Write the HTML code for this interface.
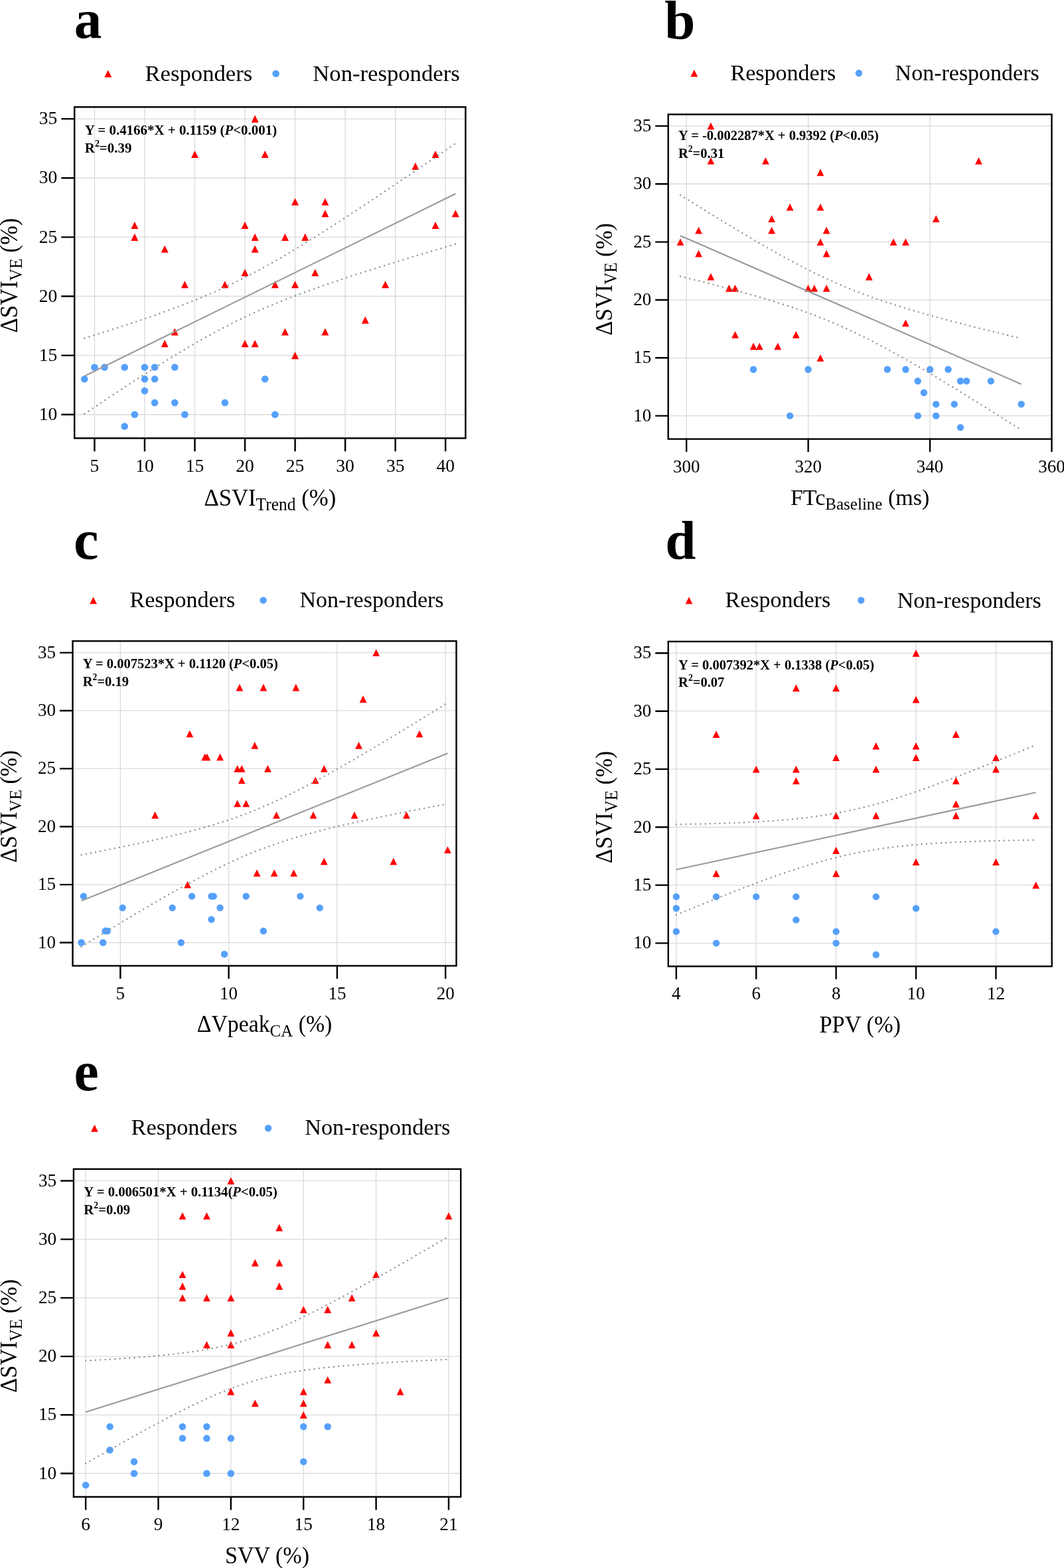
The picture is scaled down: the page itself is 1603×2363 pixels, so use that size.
<!DOCTYPE html>
<html><head><meta charset="utf-8"><title>Scatter plots</title>
<style>html,body{margin:0;padding:0;background:#fff;}svg{display:block;}</style></head>
<body><svg width="1603" height="2363" viewBox="0 0 1603 2363">
<rect width="1603" height="2363" fill="#fff"/>
<g id="panel-a">
<path d="M142.42 161.3V660.4M217.95 161.3V660.4M293.49 161.3V660.4M369.03 161.3V660.4M444.57 161.3V660.4M520.11 161.3V660.4M595.65 161.3V660.4M671.18 161.3V660.4M112.2 624.75H701.4M112.2 535.62H701.4M112.2 446.5H701.4M112.2 357.38H701.4M112.2 268.25H701.4M112.2 179.12H701.4" stroke="#dadada" stroke-width="1.33" fill="none"/>
<circle cx="142.42" cy="553.45" r="5.3" fill="#55a0fb"/><circle cx="157.52" cy="553.45" r="5.3" fill="#55a0fb"/><circle cx="187.74" cy="553.45" r="5.3" fill="#55a0fb"/><circle cx="217.95" cy="553.45" r="5.3" fill="#55a0fb"/><circle cx="233.06" cy="553.45" r="5.3" fill="#55a0fb"/><circle cx="263.28" cy="553.45" r="5.3" fill="#55a0fb"/><circle cx="127.31" cy="571.27" r="5.3" fill="#55a0fb"/><circle cx="217.95" cy="571.27" r="5.3" fill="#55a0fb"/><circle cx="233.06" cy="571.27" r="5.3" fill="#55a0fb"/><circle cx="399.25" cy="571.27" r="5.3" fill="#55a0fb"/><circle cx="217.95" cy="589.1" r="5.3" fill="#55a0fb"/><circle cx="233.06" cy="606.92" r="5.3" fill="#55a0fb"/><circle cx="263.28" cy="606.92" r="5.3" fill="#55a0fb"/><circle cx="338.82" cy="606.92" r="5.3" fill="#55a0fb"/><circle cx="202.85" cy="624.75" r="5.3" fill="#55a0fb"/><circle cx="278.38" cy="624.75" r="5.3" fill="#55a0fb"/><circle cx="414.35" cy="624.75" r="5.3" fill="#55a0fb"/><circle cx="187.74" cy="642.57" r="5.3" fill="#55a0fb"/><path d="M378.63 184.63L384.14 173.62L389.65 184.63Z" fill="#ff0000"/><path d="M287.98 238.11L293.49 227.09L299 238.11Z" fill="#ff0000"/><path d="M393.74 238.11L399.25 227.09L404.75 238.11Z" fill="#ff0000"/><path d="M620.35 255.93L625.86 244.92L631.37 255.93Z" fill="#ff0000"/><path d="M650.57 238.11L656.08 227.09L661.58 238.11Z" fill="#ff0000"/><path d="M439.06 309.41L444.57 298.39L450.08 309.41Z" fill="#ff0000"/><path d="M484.38 309.41L489.89 298.39L495.4 309.41Z" fill="#ff0000"/><path d="M484.38 327.23L489.89 316.22L495.4 327.23Z" fill="#ff0000"/><path d="M680.78 327.23L686.29 316.22L691.8 327.23Z" fill="#ff0000"/><path d="M197.34 345.06L202.85 334.04L208.35 345.06Z" fill="#ff0000"/><path d="M197.34 362.88L202.85 351.87L208.35 362.88Z" fill="#ff0000"/><path d="M363.52 345.06L369.03 334.04L374.54 345.06Z" fill="#ff0000"/><path d="M650.57 345.06L656.08 334.04L661.58 345.06Z" fill="#ff0000"/><path d="M378.63 362.88L384.14 351.87L389.65 362.88Z" fill="#ff0000"/><path d="M423.95 362.88L429.46 351.87L434.97 362.88Z" fill="#ff0000"/><path d="M454.17 362.88L459.68 351.87L465.18 362.88Z" fill="#ff0000"/><path d="M242.66 380.71L248.17 369.69L253.68 380.71Z" fill="#ff0000"/><path d="M378.63 380.71L384.14 369.69L389.65 380.71Z" fill="#ff0000"/><path d="M363.52 416.36L369.03 405.34L374.54 416.36Z" fill="#ff0000"/><path d="M469.28 416.36L474.78 405.34L480.29 416.36Z" fill="#ff0000"/><path d="M272.88 434.18L278.38 423.17L283.89 434.18Z" fill="#ff0000"/><path d="M333.31 434.18L338.82 423.17L344.32 434.18Z" fill="#ff0000"/><path d="M408.85 434.18L414.35 423.17L419.86 434.18Z" fill="#ff0000"/><path d="M439.06 434.18L444.57 423.17L450.08 434.18Z" fill="#ff0000"/><path d="M575.03 434.18L580.54 423.17L586.05 434.18Z" fill="#ff0000"/><path d="M544.82 487.66L550.32 476.64L555.83 487.66Z" fill="#ff0000"/><path d="M257.77 505.48L263.28 494.47L268.78 505.48Z" fill="#ff0000"/><path d="M423.95 505.48L429.46 494.47L434.97 505.48Z" fill="#ff0000"/><path d="M484.38 505.48L489.89 494.47L495.4 505.48Z" fill="#ff0000"/><path d="M242.66 523.31L248.17 512.29L253.68 523.31Z" fill="#ff0000"/><path d="M363.52 523.31L369.03 512.29L374.54 523.31Z" fill="#ff0000"/><path d="M378.63 523.31L384.14 512.29L389.65 523.31Z" fill="#ff0000"/><path d="M439.06 541.13L444.57 530.12L450.08 541.13Z" fill="#ff0000"/>
<path d="M127.31 566.7L686.29 291.95" stroke="#999a9d" stroke-width="2.14" fill="none"/>
<path d="M127.31 509.76L132.01 508.3L136.7 506.83L141.4 505.35L146.1 503.87L150.79 502.39L155.49 500.9L160.19 499.4L164.89 497.89L169.58 496.38L174.28 494.86L178.98 493.34L183.68 491.81L188.37 490.26L193.07 488.71L197.77 487.15L202.47 485.58L207.16 484L211.86 482.41L216.56 480.81L221.25 479.2L225.95 477.57L230.65 475.93L235.35 474.28L240.04 472.61L244.74 470.93L249.44 469.23L254.14 467.52L258.83 465.79L263.53 464.04L268.23 462.27L272.93 460.48L277.62 458.67L282.32 456.83L287.02 454.98L291.71 453.1L296.41 451.2L301.11 449.27L305.81 447.31L310.5 445.33L315.2 443.31L319.9 441.27L324.6 439.2L329.29 437.1L333.99 434.97L338.69 432.8L343.39 430.6L348.08 428.37L352.78 426.11L357.48 423.81L362.18 421.48L366.87 419.12L371.57 416.72L376.27 414.3L380.96 411.84L385.66 409.34L390.36 406.82L395.06 404.27L399.75 401.68L404.45 399.07L409.15 396.43L413.85 393.76L418.54 391.07L423.24 388.35L427.94 385.6L432.64 382.83L437.33 380.04L442.03 377.23L446.73 374.4L451.42 371.54L456.12 368.67L460.82 365.78L465.52 362.87L470.21 359.95L474.91 357.01L479.61 354.05L484.31 351.08L489 348.1L493.7 345.11L498.4 342.1L503.1 339.08L507.79 336.05L512.49 333.01L517.19 329.96L521.89 326.9L526.58 323.83L531.28 320.75L535.98 317.67L540.67 314.57L545.37 311.47L550.07 308.36L554.77 305.25L559.46 302.13L564.16 299L568.86 295.86L573.56 292.73L578.25 289.58L582.95 286.43L587.65 283.28L592.35 280.12L597.04 276.95L601.74 273.79L606.44 270.61L611.13 267.44L615.83 264.26L620.53 261.07L625.23 257.89L629.92 254.7L634.62 251.5L639.32 248.31L644.02 245.11L648.71 241.9L653.41 238.7L658.11 235.49L662.81 232.28L667.5 229.07L672.2 225.85L676.9 222.64L681.59 219.42L686.29 216.2" stroke="#8a8a8a" stroke-width="2.4" stroke-linecap="round" stroke-dasharray="0 7.45" fill="none"/>
<path d="M127.31 623.65L132.01 620.49L136.7 617.35L141.4 614.2L146.1 611.06L150.79 607.93L155.49 604.81L160.19 601.69L164.89 598.57L169.58 595.47L174.28 592.37L178.98 589.27L183.68 586.19L188.37 583.12L193.07 580.05L197.77 576.99L202.47 573.94L207.16 570.9L211.86 567.88L216.56 564.86L221.25 561.86L225.95 558.86L230.65 555.89L235.35 552.92L240.04 549.97L244.74 547.03L249.44 544.11L254.14 541.21L258.83 538.32L263.53 535.46L268.23 532.61L272.93 529.78L277.62 526.97L282.32 524.19L287.02 521.43L291.71 518.69L296.41 515.97L301.11 513.28L305.81 510.62L310.5 507.99L315.2 505.38L319.9 502.81L324.6 500.26L329.29 497.75L333.99 495.26L338.69 492.81L343.39 490.39L348.08 488L352.78 485.65L357.48 483.33L362.18 481.04L366.87 478.78L371.57 476.56L376.27 474.37L380.96 472.21L385.66 470.09L390.36 467.99L395.06 465.93L399.75 463.9L404.45 461.89L409.15 459.91L413.85 457.96L418.54 456.04L423.24 454.14L427.94 452.27L432.64 450.42L437.33 448.59L442.03 446.79L446.73 445L451.42 443.24L456.12 441.49L460.82 439.77L465.52 438.06L470.21 436.36L474.91 434.69L479.61 433.02L484.31 431.37L489 429.74L493.7 428.11L498.4 426.5L503.1 424.91L507.79 423.32L512.49 421.74L517.19 420.17L521.89 418.62L526.58 417.07L531.28 415.53L535.98 414L540.67 412.47L545.37 410.96L550.07 409.45L554.77 407.94L559.46 406.45L564.16 404.96L568.86 403.47L573.56 401.99L578.25 400.52L582.95 399.05L587.65 397.59L592.35 396.13L597.04 394.68L601.74 393.23L606.44 391.78L611.13 390.34L615.83 388.9L620.53 387.47L625.23 386.04L629.92 384.61L634.62 383.19L639.32 381.76L644.02 380.35L648.71 378.93L653.41 377.52L658.11 376.11L662.81 374.7L667.5 373.3L672.2 371.89L676.9 370.49L681.59 369.09L686.29 367.7" stroke="#8a8a8a" stroke-width="2.4" stroke-linecap="round" stroke-dasharray="0 7.45" fill="none"/>
<rect x="112.2" y="161.3" width="589.2" height="499.1" fill="none" stroke="#000" stroke-width="2.45"/>
<path d="M142.42 660.4V680.29M217.95 660.4V680.29M293.49 660.4V680.29M369.03 660.4V680.29M444.57 660.4V680.29M520.11 660.4V680.29M595.65 660.4V680.29M671.18 660.4V680.29M112.2 624.75H92.31M112.2 535.62H92.31M112.2 446.5H92.31M112.2 357.38H92.31M112.2 268.25H92.31M112.2 179.12H92.31" stroke="#000" stroke-width="2.45" fill="none"/>
<g font-family="'Liberation Serif','Times New Roman',serif" font-size="27.54" fill="#000"><text x="142.42" y="711.4" text-anchor="middle">5</text><text x="217.95" y="711.4" text-anchor="middle">10</text><text x="293.49" y="711.4" text-anchor="middle">15</text><text x="369.03" y="711.4" text-anchor="middle">20</text><text x="444.57" y="711.4" text-anchor="middle">25</text><text x="520.11" y="711.4" text-anchor="middle">30</text><text x="595.65" y="711.4" text-anchor="middle">35</text><text x="671.18" y="711.4" text-anchor="middle">40</text><text x="86.19" y="632.91" text-anchor="end">10</text><text x="86.19" y="543.78" text-anchor="end">15</text><text x="86.19" y="454.66" text-anchor="end">20</text><text x="86.19" y="365.54" text-anchor="end">25</text><text x="86.19" y="276.41" text-anchor="end">30</text><text x="86.19" y="187.28" text-anchor="end">35</text></g>
<text transform="translate(406.8 761.58) scale(1 1.06)" text-anchor="middle" font-family="'Liberation Serif','Times New Roman',serif" font-size="34.68">ΔSVI<tspan font-size="25.5" dy="7.04">Trend</tspan><tspan dy="-7.04">&#160;(%)</tspan></text>
<text transform="translate(25.5 415.07) rotate(-90) scale(1 1.07)" text-anchor="middle" font-family="'Liberation Serif','Times New Roman',serif" font-size="34.68">ΔSVI<tspan font-size="25.5" dy="7.34">VE</tspan><tspan dy="-7.34">&#160;(%)</tspan></text>
<text x="127.81" y="203.02" font-family="'Liberation Serif','Times New Roman',serif" font-weight="bold" font-size="20.91" xml:space="preserve">Y = 0.4166*X + 0.1159 (<tspan font-style="italic">P</tspan>&lt;0.001)</text>
<text x="127.81" y="230.15" font-family="'Liberation Serif','Times New Roman',serif" font-weight="bold" font-size="20.91">R<tspan font-size="13.87" dy="-8.98">2</tspan><tspan dy="8.98">=0.39</tspan></text>
<text transform="translate(111.8 57) scale(0.98 1)" font-family="'Liberation Serif','Times New Roman',serif" font-weight="bold" font-size="84.66">a</text>
<path d="M157.29 116.51L162.8 105.49L168.31 116.51Z" fill="#ff0000"/>
<circle cx="415.6" cy="111" r="5.3" fill="#55a0fb"/>
<text x="218.48" y="121.7" font-family="'Liberation Serif','Times New Roman',serif" font-size="34.68">Responders</text>
<text x="471.28" y="122" font-family="'Liberation Serif','Times New Roman',serif" font-size="34.68">Non-responders</text>
</g>
<g id="panel-b">
<path d="M1034.21 172.4V661.6M1217.64 172.4V661.6M1401.07 172.4V661.6M1584.5 172.4V661.6M1006.7 626.66H1584.5M1006.7 539.3H1584.5M1006.7 451.94H1584.5M1006.7 364.59H1584.5M1006.7 277.23H1584.5M1006.7 189.87H1584.5" stroke="#dadada" stroke-width="1.3" fill="none"/>
<circle cx="1135.1" cy="556.77" r="5.2" fill="#55a0fb"/><circle cx="1217.64" cy="556.77" r="5.2" fill="#55a0fb"/><circle cx="1336.87" cy="556.77" r="5.2" fill="#55a0fb"/><circle cx="1364.39" cy="556.77" r="5.2" fill="#55a0fb"/><circle cx="1401.07" cy="556.77" r="5.2" fill="#55a0fb"/><circle cx="1428.59" cy="556.77" r="5.2" fill="#55a0fb"/><circle cx="1382.73" cy="574.24" r="5.2" fill="#55a0fb"/><circle cx="1446.93" cy="574.24" r="5.2" fill="#55a0fb"/><circle cx="1456.1" cy="574.24" r="5.2" fill="#55a0fb"/><circle cx="1492.79" cy="574.24" r="5.2" fill="#55a0fb"/><circle cx="1391.9" cy="591.71" r="5.2" fill="#55a0fb"/><circle cx="1410.24" cy="609.19" r="5.2" fill="#55a0fb"/><circle cx="1437.76" cy="609.19" r="5.2" fill="#55a0fb"/><circle cx="1538.64" cy="609.19" r="5.2" fill="#55a0fb"/><circle cx="1190.13" cy="626.66" r="5.2" fill="#55a0fb"/><circle cx="1382.73" cy="626.66" r="5.2" fill="#55a0fb"/><circle cx="1410.24" cy="626.66" r="5.2" fill="#55a0fb"/><circle cx="1446.93" cy="644.13" r="5.2" fill="#55a0fb"/><path d="M1065.5 195.27L1070.9 184.47L1076.3 195.27Z" fill="#ff0000"/><path d="M1065.5 247.69L1070.9 236.89L1076.3 247.69Z" fill="#ff0000"/><path d="M1148.04 247.69L1153.44 236.89L1158.84 247.69Z" fill="#ff0000"/><path d="M1230.59 265.16L1235.99 254.36L1241.39 265.16Z" fill="#ff0000"/><path d="M1469.04 247.69L1474.44 236.89L1479.84 247.69Z" fill="#ff0000"/><path d="M1184.73 317.57L1190.13 306.77L1195.53 317.57Z" fill="#ff0000"/><path d="M1230.59 317.57L1235.99 306.77L1241.39 317.57Z" fill="#ff0000"/><path d="M1157.21 335.04L1162.61 324.24L1168.01 335.04Z" fill="#ff0000"/><path d="M1404.84 335.04L1410.24 324.24L1415.64 335.04Z" fill="#ff0000"/><path d="M1047.16 352.51L1052.56 341.71L1057.96 352.51Z" fill="#ff0000"/><path d="M1157.21 352.51L1162.61 341.71L1168.01 352.51Z" fill="#ff0000"/><path d="M1239.76 352.51L1245.16 341.71L1250.56 352.51Z" fill="#ff0000"/><path d="M1019.64 369.99L1025.04 359.19L1030.44 369.99Z" fill="#ff0000"/><path d="M1230.59 369.99L1235.99 359.19L1241.39 369.99Z" fill="#ff0000"/><path d="M1340.64 369.99L1346.04 359.19L1351.44 369.99Z" fill="#ff0000"/><path d="M1358.99 369.99L1364.39 359.19L1369.79 369.99Z" fill="#ff0000"/><path d="M1047.16 387.46L1052.56 376.66L1057.96 387.46Z" fill="#ff0000"/><path d="M1239.76 387.46L1245.16 376.66L1250.56 387.46Z" fill="#ff0000"/><path d="M1065.5 422.4L1070.9 411.6L1076.3 422.4Z" fill="#ff0000"/><path d="M1303.96 422.4L1309.36 411.6L1314.76 422.4Z" fill="#ff0000"/><path d="M1093.01 439.87L1098.41 429.07L1103.81 439.87Z" fill="#ff0000"/><path d="M1102.19 439.87L1107.59 429.07L1112.99 439.87Z" fill="#ff0000"/><path d="M1212.24 439.87L1217.64 429.07L1223.04 439.87Z" fill="#ff0000"/><path d="M1221.41 439.87L1226.81 429.07L1232.21 439.87Z" fill="#ff0000"/><path d="M1239.76 439.87L1245.16 429.07L1250.56 439.87Z" fill="#ff0000"/><path d="M1358.99 492.29L1364.39 481.49L1369.79 492.29Z" fill="#ff0000"/><path d="M1102.19 509.76L1107.59 498.96L1112.99 509.76Z" fill="#ff0000"/><path d="M1193.9 509.76L1199.3 498.96L1204.7 509.76Z" fill="#ff0000"/><path d="M1129.7 527.23L1135.1 516.43L1140.5 527.23Z" fill="#ff0000"/><path d="M1138.87 527.23L1144.27 516.43L1149.67 527.23Z" fill="#ff0000"/><path d="M1166.39 527.23L1171.79 516.43L1177.19 527.23Z" fill="#ff0000"/><path d="M1230.59 544.7L1235.99 533.9L1241.39 544.7Z" fill="#ff0000"/>
<path d="M1025.04 355.17L1538.64 578.93" stroke="#999a9d" stroke-width="2.1" fill="none"/>
<path d="M1025.04 293.85L1029.36 296.56L1033.67 299.27L1037.99 301.97L1042.31 304.67L1046.62 307.36L1050.94 310.05L1055.25 312.73L1059.57 315.41L1063.89 318.08L1068.2 320.75L1072.52 323.41L1076.83 326.07L1081.15 328.71L1085.47 331.36L1089.78 333.99L1094.1 336.62L1098.41 339.24L1102.73 341.85L1107.05 344.45L1111.36 347.05L1115.68 349.63L1119.99 352.21L1124.31 354.77L1128.63 357.33L1132.94 359.87L1137.26 362.4L1141.57 364.92L1145.89 367.43L1150.21 369.92L1154.52 372.4L1158.84 374.87L1163.15 377.31L1167.47 379.75L1171.79 382.16L1176.1 384.56L1180.42 386.94L1184.73 389.3L1189.05 391.64L1193.37 393.96L1197.68 396.26L1202 398.54L1206.31 400.79L1210.63 403.02L1214.95 405.22L1219.26 407.4L1223.58 409.55L1227.89 411.68L1232.21 413.78L1236.53 415.85L1240.84 417.89L1245.16 419.9L1249.47 421.89L1253.79 423.84L1258.11 425.77L1262.42 427.66L1266.74 429.52L1271.05 431.36L1275.37 433.16L1279.68 434.94L1284 436.68L1288.32 438.4L1292.63 440.09L1296.95 441.75L1301.26 443.38L1305.58 444.99L1309.9 446.57L1314.21 448.12L1318.53 449.65L1322.84 451.16L1327.16 452.64L1331.48 454.1L1335.79 455.54L1340.11 456.96L1344.42 458.36L1348.74 459.74L1353.06 461.1L1357.37 462.44L1361.69 463.77L1366 465.08L1370.32 466.38L1374.64 467.66L1378.95 468.92L1383.27 470.18L1387.58 471.42L1391.9 472.65L1396.22 473.86L1400.53 475.07L1404.85 476.26L1409.16 477.45L1413.48 478.62L1417.8 479.79L1422.11 480.94L1426.43 482.09L1430.74 483.23L1435.06 484.36L1439.38 485.49L1443.69 486.61L1448.01 487.72L1452.32 488.82L1456.64 489.92L1460.96 491.02L1465.27 492.1L1469.59 493.19L1473.9 494.26L1478.22 495.33L1482.54 496.4L1486.85 497.46L1491.17 498.52L1495.48 499.58L1499.8 500.63L1504.12 501.67L1508.43 502.72L1512.75 503.75L1517.06 504.79L1521.38 505.82L1525.69 506.85L1530.01 507.88L1534.33 508.9L1538.64 509.92" stroke="#8a8a8a" stroke-width="2.35" stroke-linecap="round" stroke-dasharray="0 7.3" fill="none"/>
<path d="M1025.04 416.5L1029.36 417.55L1033.67 418.6L1037.99 419.66L1042.31 420.73L1046.62 421.79L1050.94 422.86L1055.25 423.94L1059.57 425.02L1063.89 426.11L1068.2 427.21L1072.52 428.31L1076.83 429.41L1081.15 430.52L1085.47 431.64L1089.78 432.77L1094.1 433.9L1098.41 435.04L1102.73 436.19L1107.05 437.35L1111.36 438.51L1115.68 439.69L1119.99 440.87L1124.31 442.07L1128.63 443.28L1132.94 444.49L1137.26 445.72L1141.57 446.96L1145.89 448.22L1150.21 449.48L1154.52 450.77L1158.84 452.06L1163.15 453.37L1167.47 454.7L1171.79 456.05L1176.1 457.41L1180.42 458.79L1184.73 460.19L1189.05 461.61L1193.37 463.05L1197.68 464.51L1202 466L1206.31 467.51L1210.63 469.04L1214.95 470.6L1219.26 472.18L1223.58 473.78L1227.89 475.42L1232.21 477.08L1236.53 478.77L1240.84 480.49L1245.16 482.24L1249.47 484.02L1253.79 485.82L1258.11 487.66L1262.42 489.53L1266.74 491.42L1271.05 493.35L1275.37 495.3L1279.68 497.29L1284 499.3L1288.32 501.35L1292.63 503.42L1296.95 505.52L1301.26 507.65L1305.58 509.8L1309.9 511.98L1314.21 514.19L1318.53 516.42L1322.84 518.68L1327.16 520.95L1331.48 523.25L1335.79 525.58L1340.11 527.92L1344.42 530.28L1348.74 532.66L1353.06 535.06L1357.37 537.48L1361.69 539.91L1366 542.36L1370.32 544.83L1374.64 547.31L1378.95 549.8L1383.27 552.31L1387.58 554.83L1391.9 557.36L1396.22 559.9L1400.53 562.46L1404.85 565.03L1409.16 567.6L1413.48 570.19L1417.8 572.78L1422.11 575.39L1426.43 578L1430.74 580.62L1435.06 583.25L1439.38 585.88L1443.69 588.53L1448.01 591.17L1452.32 593.83L1456.64 596.49L1460.96 599.16L1465.27 601.83L1469.59 604.51L1473.9 607.2L1478.22 609.88L1482.54 612.58L1486.85 615.28L1491.17 617.98L1495.48 620.68L1499.8 623.4L1504.12 626.11L1508.43 628.83L1512.75 631.55L1517.06 634.27L1521.38 637L1525.69 639.73L1530.01 642.47L1534.33 645.21L1538.64 647.95" stroke="#8a8a8a" stroke-width="2.35" stroke-linecap="round" stroke-dasharray="0 7.3" fill="none"/>
<rect x="1006.7" y="172.4" width="577.8" height="489.2" fill="none" stroke="#000" stroke-width="2.4"/>
<path d="M1034.21 661.6V681.1M1217.64 661.6V681.1M1401.07 661.6V681.1M1584.5 661.6V681.1M1006.7 626.66H987.2M1006.7 539.3H987.2M1006.7 451.94H987.2M1006.7 364.59H987.2M1006.7 277.23H987.2M1006.7 189.87H987.2" stroke="#000" stroke-width="2.4" fill="none"/>
<g font-family="'Liberation Serif','Times New Roman',serif" font-size="27" fill="#000"><text x="1034.21" y="711.6" text-anchor="middle">300</text><text x="1217.64" y="711.6" text-anchor="middle">320</text><text x="1401.07" y="711.6" text-anchor="middle">340</text><text x="1584.5" y="711.6" text-anchor="middle">360</text><text x="981.2" y="634.66" text-anchor="end">10</text><text x="981.2" y="547.3" text-anchor="end">15</text><text x="981.2" y="459.94" text-anchor="end">20</text><text x="981.2" y="372.59" text-anchor="end">25</text><text x="981.2" y="285.23" text-anchor="end">30</text><text x="981.2" y="197.87" text-anchor="end">35</text></g>
<text transform="translate(1295.6 760.8) scale(1 1.0)" text-anchor="middle" font-family="'Liberation Serif','Times New Roman',serif" font-size="34">FTc<tspan font-size="25" dy="6.9">Baseline</tspan><tspan dy="-6.9">&#160;(ms)</tspan></text>
<text transform="translate(921.7 420.8) rotate(-90) scale(1 1.08)" text-anchor="middle" font-family="'Liberation Serif','Times New Roman',serif" font-size="34">ΔSVI<tspan font-size="25" dy="7.2">VE</tspan><tspan dy="-7.2">&#160;(%)</tspan></text>
<text x="1022" y="210.9" font-family="'Liberation Serif','Times New Roman',serif" font-weight="bold" font-size="20.5" xml:space="preserve">Y = -0.002287*X + 0.9392 (<tspan font-style="italic">P</tspan>&lt;0.05)</text>
<text x="1022" y="237.5" font-family="'Liberation Serif','Times New Roman',serif" font-weight="bold" font-size="20.5">R<tspan font-size="13.6" dy="-8.8">2</tspan><tspan dy="8.8">=0.31</tspan></text>
<text transform="translate(1001.2 57.5) scale(1.0 1)" font-family="'Liberation Serif','Times New Roman',serif" font-weight="bold" font-size="83">b</text>
<path d="M1040.4 115.7L1045.8 104.9L1051.2 115.7Z" fill="#ff0000"/>
<circle cx="1293.9" cy="110.2" r="5.2" fill="#55a0fb"/>
<text x="1100.6" y="120.5" font-family="'Liberation Serif','Times New Roman',serif" font-size="34">Responders</text>
<text x="1348.6" y="120.8" font-family="'Liberation Serif','Times New Roman',serif" font-size="34">Non-responders</text>
</g>
<g id="panel-c">
<path d="M181.34 966.1V1455.5M344.62 966.1V1455.5M507.9 966.1V1455.5M671.17 966.1V1455.5M109.5 1420.54H687.5M109.5 1333.15H687.5M109.5 1245.76H687.5M109.5 1158.36H687.5M109.5 1070.97H687.5M109.5 983.58H687.5" stroke="#dadada" stroke-width="1.3" fill="none"/>
<circle cx="125.83" cy="1350.63" r="5.2" fill="#55a0fb"/><circle cx="289.1" cy="1350.63" r="5.2" fill="#55a0fb"/><circle cx="318.49" cy="1350.63" r="5.2" fill="#55a0fb"/><circle cx="321.76" cy="1350.63" r="5.2" fill="#55a0fb"/><circle cx="370.74" cy="1350.63" r="5.2" fill="#55a0fb"/><circle cx="452.38" cy="1350.63" r="5.2" fill="#55a0fb"/><circle cx="184.61" cy="1368.11" r="5.2" fill="#55a0fb"/><circle cx="259.71" cy="1368.11" r="5.2" fill="#55a0fb"/><circle cx="331.56" cy="1368.11" r="5.2" fill="#55a0fb"/><circle cx="481.77" cy="1368.11" r="5.2" fill="#55a0fb"/><circle cx="318.49" cy="1385.59" r="5.2" fill="#55a0fb"/><circle cx="158.48" cy="1403.06" r="5.2" fill="#55a0fb"/><circle cx="161.75" cy="1403.06" r="5.2" fill="#55a0fb"/><circle cx="396.87" cy="1403.06" r="5.2" fill="#55a0fb"/><circle cx="122.56" cy="1420.54" r="5.2" fill="#55a0fb"/><circle cx="155.22" cy="1420.54" r="5.2" fill="#55a0fb"/><circle cx="272.78" cy="1420.54" r="5.2" fill="#55a0fb"/><circle cx="338.09" cy="1438.02" r="5.2" fill="#55a0fb"/><path d="M561.28 988.98L566.68 978.18L572.08 988.98Z" fill="#ff0000"/><path d="M355.55 1041.41L360.95 1030.61L366.35 1041.41Z" fill="#ff0000"/><path d="M391.47 1041.41L396.87 1030.61L402.27 1041.41Z" fill="#ff0000"/><path d="M440.45 1041.41L445.85 1030.61L451.25 1041.41Z" fill="#ff0000"/><path d="M541.68 1058.89L547.08 1048.09L552.48 1058.89Z" fill="#ff0000"/><path d="M280.44 1111.33L285.84 1100.53L291.24 1111.33Z" fill="#ff0000"/><path d="M626.59 1111.33L631.99 1100.53L637.39 1111.33Z" fill="#ff0000"/><path d="M378.41 1128.81L383.81 1118.01L389.21 1128.81Z" fill="#ff0000"/><path d="M535.15 1128.81L540.55 1118.01L545.95 1128.81Z" fill="#ff0000"/><path d="M303.3 1146.29L308.7 1135.49L314.1 1146.29Z" fill="#ff0000"/><path d="M306.56 1146.29L311.96 1135.49L317.36 1146.29Z" fill="#ff0000"/><path d="M326.16 1146.29L331.56 1135.49L336.96 1146.29Z" fill="#ff0000"/><path d="M352.28 1163.76L357.68 1152.96L363.08 1163.76Z" fill="#ff0000"/><path d="M358.81 1163.76L364.21 1152.96L369.61 1163.76Z" fill="#ff0000"/><path d="M398 1163.76L403.4 1152.96L408.8 1163.76Z" fill="#ff0000"/><path d="M482.9 1163.76L488.3 1152.96L493.7 1163.76Z" fill="#ff0000"/><path d="M358.81 1181.24L364.21 1170.44L369.61 1181.24Z" fill="#ff0000"/><path d="M469.84 1181.24L475.24 1170.44L480.64 1181.24Z" fill="#ff0000"/><path d="M352.28 1216.2L357.68 1205.4L363.08 1216.2Z" fill="#ff0000"/><path d="M365.34 1216.2L370.74 1205.4L376.14 1216.2Z" fill="#ff0000"/><path d="M228.19 1233.68L233.59 1222.88L238.99 1233.68Z" fill="#ff0000"/><path d="M411.06 1233.68L416.46 1222.88L421.86 1233.68Z" fill="#ff0000"/><path d="M466.57 1233.68L471.97 1222.88L477.37 1233.68Z" fill="#ff0000"/><path d="M528.62 1233.68L534.02 1222.88L539.42 1233.68Z" fill="#ff0000"/><path d="M606.99 1233.68L612.39 1222.88L617.79 1233.68Z" fill="#ff0000"/><path d="M669.04 1286.11L674.44 1275.31L679.84 1286.11Z" fill="#ff0000"/><path d="M482.9 1303.59L488.3 1292.79L493.7 1303.59Z" fill="#ff0000"/><path d="M587.4 1303.59L592.8 1292.79L598.2 1303.59Z" fill="#ff0000"/><path d="M381.67 1321.07L387.07 1310.27L392.47 1321.07Z" fill="#ff0000"/><path d="M407.79 1321.07L413.19 1310.27L418.59 1321.07Z" fill="#ff0000"/><path d="M437.18 1321.07L442.58 1310.27L447.98 1321.07Z" fill="#ff0000"/><path d="M277.17 1338.55L282.57 1327.75L287.97 1338.55Z" fill="#ff0000"/>
<path d="M122.56 1357.49L674.44 1135.27" stroke="#999a9d" stroke-width="2.1" fill="none"/>
<path d="M122.56 1288.28L127.2 1287.39L131.84 1286.5L136.47 1285.61L141.11 1284.71L145.75 1283.81L150.39 1282.91L155.03 1282L159.66 1281.08L164.3 1280.16L168.94 1279.24L173.58 1278.3L178.21 1277.37L182.85 1276.42L187.49 1275.47L192.13 1274.52L196.76 1273.55L201.4 1272.58L206.04 1271.6L210.68 1270.62L215.31 1269.62L219.95 1268.61L224.59 1267.6L229.23 1266.57L233.86 1265.54L238.5 1264.49L243.14 1263.43L247.78 1262.36L252.42 1261.27L257.05 1260.17L261.69 1259.06L266.33 1257.93L270.97 1256.78L275.6 1255.62L280.24 1254.44L284.88 1253.24L289.52 1252.02L294.15 1250.77L298.79 1249.51L303.43 1248.22L308.07 1246.91L312.7 1245.57L317.34 1244.2L321.98 1242.81L326.62 1241.39L331.25 1239.93L335.89 1238.45L340.53 1236.93L345.17 1235.38L349.81 1233.8L354.44 1232.17L359.08 1230.52L363.72 1228.82L368.36 1227.09L372.99 1225.32L377.63 1223.51L382.27 1221.66L386.91 1219.77L391.54 1217.85L396.18 1215.88L400.82 1213.88L405.46 1211.84L410.09 1209.76L414.73 1207.65L419.37 1205.5L424.01 1203.31L428.64 1201.09L433.28 1198.84L437.92 1196.56L442.56 1194.25L447.19 1191.91L451.83 1189.54L456.47 1187.14L461.11 1184.72L465.75 1182.27L470.38 1179.8L475.02 1177.31L479.66 1174.79L484.3 1172.26L488.93 1169.7L493.57 1167.13L498.21 1164.54L502.85 1161.94L507.48 1159.32L512.12 1156.68L516.76 1154.03L521.4 1151.37L526.03 1148.69L530.67 1146L535.31 1143.31L539.95 1140.6L544.58 1137.88L549.22 1135.15L553.86 1132.41L558.5 1129.66L563.14 1126.91L567.77 1124.14L572.41 1121.37L577.05 1118.59L581.69 1115.81L586.32 1113.01L590.96 1110.22L595.6 1107.41L600.24 1104.6L604.87 1101.79L609.51 1098.97L614.15 1096.14L618.79 1093.32L623.42 1090.48L628.06 1087.64L632.7 1084.8L637.34 1081.96L641.97 1079.11L646.61 1076.25L651.25 1073.4L655.89 1070.54L660.53 1067.67L665.16 1064.81L669.8 1061.94L674.44 1059.06" stroke="#8a8a8a" stroke-width="2.35" stroke-linecap="round" stroke-dasharray="0 7.3" fill="none"/>
<path d="M122.56 1426.71L127.2 1423.86L131.84 1421.01L136.47 1418.17L141.11 1415.33L145.75 1412.5L150.39 1409.67L155.03 1406.84L159.66 1404.02L164.3 1401.21L168.94 1398.4L173.58 1395.6L178.21 1392.8L182.85 1390.01L187.49 1387.22L192.13 1384.44L196.76 1381.67L201.4 1378.91L206.04 1376.15L210.68 1373.41L215.31 1370.67L219.95 1367.94L224.59 1365.22L229.23 1362.51L233.86 1359.81L238.5 1357.12L243.14 1354.45L247.78 1351.79L252.42 1349.14L257.05 1346.5L261.69 1343.88L266.33 1341.28L270.97 1338.69L275.6 1336.12L280.24 1333.56L284.88 1331.03L289.52 1328.51L294.15 1326.02L298.79 1323.55L303.43 1321.11L308.07 1318.68L312.7 1316.29L317.34 1313.92L321.98 1311.58L326.62 1309.26L331.25 1306.98L335.89 1304.73L340.53 1302.51L345.17 1300.33L349.81 1298.18L354.44 1296.07L359.08 1293.99L363.72 1291.95L368.36 1289.95L372.99 1287.98L377.63 1286.06L382.27 1284.17L386.91 1282.33L391.54 1280.52L396.18 1278.75L400.82 1277.02L405.46 1275.32L410.09 1273.66L414.73 1272.04L419.37 1270.46L424.01 1268.91L428.64 1267.39L433.28 1265.91L437.92 1264.46L442.56 1263.03L447.19 1261.64L451.83 1260.28L456.47 1258.94L461.11 1257.63L465.75 1256.34L470.38 1255.08L475.02 1253.83L479.66 1252.61L484.3 1251.41L488.93 1250.23L493.57 1249.07L498.21 1247.92L502.85 1246.79L507.48 1245.68L512.12 1244.58L516.76 1243.49L521.4 1242.42L526.03 1241.36L530.67 1240.32L535.31 1239.28L539.95 1238.25L544.58 1237.24L549.22 1236.23L553.86 1235.24L558.5 1234.25L563.14 1233.27L567.77 1232.3L572.41 1231.34L577.05 1230.38L581.69 1229.43L586.32 1228.49L590.96 1227.55L595.6 1226.62L600.24 1225.69L604.87 1224.77L609.51 1223.86L614.15 1222.95L618.79 1222.04L623.42 1221.14L628.06 1220.25L632.7 1219.35L637.34 1218.47L641.97 1217.58L646.61 1216.7L651.25 1215.82L655.89 1214.95L660.53 1214.07L665.16 1213.21L669.8 1212.34L674.44 1211.48" stroke="#8a8a8a" stroke-width="2.35" stroke-linecap="round" stroke-dasharray="0 7.3" fill="none"/>
<rect x="109.5" y="966.1" width="578" height="489.4" fill="none" stroke="#000" stroke-width="2.4"/>
<path d="M181.34 1455.5V1475M344.62 1455.5V1475M507.9 1455.5V1475M671.17 1455.5V1475M109.5 1420.54H90M109.5 1333.15H90M109.5 1245.76H90M109.5 1158.36H90M109.5 1070.97H90M109.5 983.58H90" stroke="#000" stroke-width="2.4" fill="none"/>
<g font-family="'Liberation Serif','Times New Roman',serif" font-size="27" fill="#000"><text x="181.34" y="1505.5" text-anchor="middle">5</text><text x="344.62" y="1505.5" text-anchor="middle">10</text><text x="507.9" y="1505.5" text-anchor="middle">15</text><text x="671.17" y="1505.5" text-anchor="middle">20</text><text x="84" y="1428.54" text-anchor="end">10</text><text x="84" y="1341.15" text-anchor="end">15</text><text x="84" y="1253.76" text-anchor="end">20</text><text x="84" y="1166.36" text-anchor="end">25</text><text x="84" y="1078.97" text-anchor="end">30</text><text x="84" y="991.58" text-anchor="end">35</text></g>
<text transform="translate(398.5 1554.7) scale(1 1.035)" text-anchor="middle" font-family="'Liberation Serif','Times New Roman',serif" font-size="33.8">ΔVpeak<tspan font-size="25" dy="6.9">CA</tspan><tspan dy="-6.9">&#160;(%)</tspan></text>
<text transform="translate(24.5 1215.3) rotate(-90) scale(1 1.04)" text-anchor="middle" font-family="'Liberation Serif','Times New Roman',serif" font-size="34">ΔSVI<tspan font-size="25" dy="7.2">VE</tspan><tspan dy="-7.2">&#160;(%)</tspan></text>
<text x="124.8" y="1007.3" font-family="'Liberation Serif','Times New Roman',serif" font-weight="bold" font-size="20.5" xml:space="preserve">Y = 0.007523*X + 0.1120 (<tspan font-style="italic">P</tspan>&lt;0.05)</text>
<text x="124.8" y="1033.9" font-family="'Liberation Serif','Times New Roman',serif" font-weight="bold" font-size="20.5">R<tspan font-size="13.6" dy="-8.8">2</tspan><tspan dy="8.8">=0.19</tspan></text>
<text transform="translate(111.1 841.6) scale(1.0 1)" font-family="'Liberation Serif','Times New Roman',serif" font-weight="bold" font-size="84.5">c</text>
<path d="M135.2 910.3L140.6 899.5L146 910.3Z" fill="#ff0000"/>
<circle cx="396.6" cy="904.6" r="5.2" fill="#55a0fb"/>
<text x="195.5" y="915" font-family="'Liberation Serif','Times New Roman',serif" font-size="34">Responders</text>
<text x="451.4" y="915.2" font-family="'Liberation Serif','Times New Roman',serif" font-size="34">Non-responders</text>
</g>
<g id="panel-d">
<path d="M1018.84 966.8V1456.3M1139.24 966.8V1456.3M1259.63 966.8V1456.3M1380.03 966.8V1456.3M1500.42 966.8V1456.3M1006.8 1421.34H1584.7M1006.8 1333.92H1584.7M1006.8 1246.51H1584.7M1006.8 1159.1H1584.7M1006.8 1071.69H1584.7M1006.8 984.28H1584.7" stroke="#dadada" stroke-width="1.3" fill="none"/>
<circle cx="1018.84" cy="1351.41" r="5.2" fill="#55a0fb"/><circle cx="1079.04" cy="1351.41" r="5.2" fill="#55a0fb"/><circle cx="1139.24" cy="1351.41" r="5.2" fill="#55a0fb"/><circle cx="1199.43" cy="1351.41" r="5.2" fill="#55a0fb"/><circle cx="1319.83" cy="1351.41" r="5.2" fill="#55a0fb"/><circle cx="1018.84" cy="1368.89" r="5.2" fill="#55a0fb"/><circle cx="1380.03" cy="1368.89" r="5.2" fill="#55a0fb"/><circle cx="1199.43" cy="1386.37" r="5.2" fill="#55a0fb"/><circle cx="1018.84" cy="1403.85" r="5.2" fill="#55a0fb"/><circle cx="1259.63" cy="1403.85" r="5.2" fill="#55a0fb"/><circle cx="1500.42" cy="1403.85" r="5.2" fill="#55a0fb"/><circle cx="1079.04" cy="1421.34" r="5.2" fill="#55a0fb"/><circle cx="1259.63" cy="1421.34" r="5.2" fill="#55a0fb"/><circle cx="1319.83" cy="1438.82" r="5.2" fill="#55a0fb"/><path d="M1374.63 989.68L1380.03 978.88L1385.43 989.68Z" fill="#ff0000"/><path d="M1194.03 1042.13L1199.43 1031.33L1204.83 1042.13Z" fill="#ff0000"/><path d="M1254.23 1042.13L1259.63 1031.33L1265.03 1042.13Z" fill="#ff0000"/><path d="M1374.63 1059.61L1380.03 1048.81L1385.43 1059.61Z" fill="#ff0000"/><path d="M1073.64 1112.06L1079.04 1101.26L1084.44 1112.06Z" fill="#ff0000"/><path d="M1434.82 1112.06L1440.22 1101.26L1445.62 1112.06Z" fill="#ff0000"/><path d="M1314.43 1129.54L1319.83 1118.74L1325.23 1129.54Z" fill="#ff0000"/><path d="M1374.63 1129.54L1380.03 1118.74L1385.43 1129.54Z" fill="#ff0000"/><path d="M1254.23 1147.02L1259.63 1136.22L1265.03 1147.02Z" fill="#ff0000"/><path d="M1374.63 1147.02L1380.03 1136.22L1385.43 1147.02Z" fill="#ff0000"/><path d="M1495.02 1147.02L1500.42 1136.22L1505.82 1147.02Z" fill="#ff0000"/><path d="M1133.84 1164.5L1139.24 1153.7L1144.64 1164.5Z" fill="#ff0000"/><path d="M1194.03 1164.5L1199.43 1153.7L1204.83 1164.5Z" fill="#ff0000"/><path d="M1314.43 1164.5L1319.83 1153.7L1325.23 1164.5Z" fill="#ff0000"/><path d="M1495.02 1164.5L1500.42 1153.7L1505.82 1164.5Z" fill="#ff0000"/><path d="M1194.03 1181.99L1199.43 1171.19L1204.83 1181.99Z" fill="#ff0000"/><path d="M1434.82 1181.99L1440.22 1171.19L1445.62 1181.99Z" fill="#ff0000"/><path d="M1434.82 1216.95L1440.22 1206.15L1445.62 1216.95Z" fill="#ff0000"/><path d="M1133.84 1234.43L1139.24 1223.63L1144.64 1234.43Z" fill="#ff0000"/><path d="M1254.23 1234.43L1259.63 1223.63L1265.03 1234.43Z" fill="#ff0000"/><path d="M1314.43 1234.43L1319.83 1223.63L1325.23 1234.43Z" fill="#ff0000"/><path d="M1434.82 1234.43L1440.22 1223.63L1445.62 1234.43Z" fill="#ff0000"/><path d="M1555.22 1234.43L1560.62 1223.63L1566.02 1234.43Z" fill="#ff0000"/><path d="M1254.23 1286.88L1259.63 1276.08L1265.03 1286.88Z" fill="#ff0000"/><path d="M1374.63 1304.36L1380.03 1293.56L1385.43 1304.36Z" fill="#ff0000"/><path d="M1495.02 1304.36L1500.42 1293.56L1505.82 1304.36Z" fill="#ff0000"/><path d="M1073.64 1321.84L1079.04 1311.04L1084.44 1321.84Z" fill="#ff0000"/><path d="M1254.23 1321.84L1259.63 1311.04L1265.03 1321.84Z" fill="#ff0000"/><path d="M1555.22 1339.33L1560.62 1328.52L1566.02 1339.33Z" fill="#ff0000"/>
<path d="M1018.84 1310.55L1560.62 1194.25" stroke="#999a9d" stroke-width="2.1" fill="none"/>
<path d="M1018.84 1242.37L1023.39 1242.3L1027.95 1242.22L1032.5 1242.14L1037.05 1242.06L1041.6 1241.97L1046.16 1241.87L1050.71 1241.78L1055.26 1241.67L1059.81 1241.56L1064.37 1241.45L1068.92 1241.33L1073.47 1241.2L1078.03 1241.07L1082.58 1240.93L1087.13 1240.79L1091.68 1240.64L1096.24 1240.48L1100.79 1240.31L1105.34 1240.14L1109.9 1239.95L1114.45 1239.76L1119 1239.56L1123.55 1239.35L1128.11 1239.13L1132.66 1238.89L1137.21 1238.65L1141.76 1238.4L1146.32 1238.13L1150.87 1237.85L1155.42 1237.56L1159.98 1237.25L1164.53 1236.93L1169.08 1236.59L1173.63 1236.24L1178.19 1235.87L1182.74 1235.48L1187.29 1235.08L1191.85 1234.65L1196.4 1234.2L1200.95 1233.74L1205.5 1233.25L1210.06 1232.74L1214.61 1232.2L1219.16 1231.64L1223.71 1231.06L1228.27 1230.45L1232.82 1229.81L1237.37 1229.15L1241.93 1228.45L1246.48 1227.73L1251.03 1226.98L1255.58 1226.2L1260.14 1225.38L1264.69 1224.53L1269.24 1223.66L1273.8 1222.75L1278.35 1221.81L1282.9 1220.83L1287.45 1219.82L1292.01 1218.78L1296.56 1217.71L1301.11 1216.61L1305.66 1215.47L1310.22 1214.31L1314.77 1213.11L1319.32 1211.88L1323.88 1210.63L1328.43 1209.34L1332.98 1208.03L1337.53 1206.69L1342.09 1205.32L1346.64 1203.93L1351.19 1202.52L1355.75 1201.08L1360.3 1199.61L1364.85 1198.13L1369.4 1196.62L1373.96 1195.1L1378.51 1193.55L1383.06 1191.99L1387.62 1190.41L1392.17 1188.81L1396.72 1187.19L1401.27 1185.56L1405.83 1183.92L1410.38 1182.26L1414.93 1180.59L1419.48 1178.9L1424.04 1177.2L1428.59 1175.49L1433.14 1173.77L1437.7 1172.04L1442.25 1170.3L1446.8 1168.55L1451.35 1166.78L1455.91 1165.01L1460.46 1163.24L1465.01 1161.45L1469.57 1159.66L1474.12 1157.85L1478.67 1156.04L1483.22 1154.23L1487.78 1152.41L1492.33 1150.58L1496.88 1148.75L1501.43 1146.91L1505.99 1145.06L1510.54 1143.21L1515.09 1141.36L1519.65 1139.5L1524.2 1137.63L1528.75 1135.76L1533.3 1133.89L1537.86 1132.01L1542.41 1130.13L1546.96 1128.25L1551.52 1126.36L1556.07 1124.47L1560.62 1122.57" stroke="#8a8a8a" stroke-width="2.35" stroke-linecap="round" stroke-dasharray="0 7.3" fill="none"/>
<path d="M1018.84 1378.74L1023.39 1376.85L1027.95 1374.98L1032.5 1373.1L1037.05 1371.23L1041.6 1369.37L1046.16 1367.51L1050.71 1365.65L1055.26 1363.8L1059.81 1361.95L1064.37 1360.11L1068.92 1358.28L1073.47 1356.45L1078.03 1354.63L1082.58 1352.81L1087.13 1351L1091.68 1349.2L1096.24 1347.4L1100.79 1345.61L1105.34 1343.83L1109.9 1342.06L1114.45 1340.3L1119 1338.55L1123.55 1336.8L1128.11 1335.07L1132.66 1333.35L1137.21 1331.64L1141.76 1329.94L1146.32 1328.25L1150.87 1326.57L1155.42 1324.91L1159.98 1323.26L1164.53 1321.63L1169.08 1320.01L1173.63 1318.41L1178.19 1316.83L1182.74 1315.26L1187.29 1313.71L1191.85 1312.18L1196.4 1310.67L1200.95 1309.18L1205.5 1307.72L1210.06 1306.27L1214.61 1304.85L1219.16 1303.46L1223.71 1302.09L1228.27 1300.74L1232.82 1299.43L1237.37 1298.14L1241.93 1296.87L1246.48 1295.64L1251.03 1294.44L1255.58 1293.27L1260.14 1292.13L1264.69 1291.02L1269.24 1289.94L1273.8 1288.9L1278.35 1287.89L1282.9 1286.91L1287.45 1285.96L1292.01 1285.04L1296.56 1284.16L1301.11 1283.31L1305.66 1282.49L1310.22 1281.7L1314.77 1280.94L1319.32 1280.21L1323.88 1279.52L1328.43 1278.85L1332.98 1278.2L1337.53 1277.59L1342.09 1277L1346.64 1276.44L1351.19 1275.9L1355.75 1275.38L1360.3 1274.89L1364.85 1274.42L1369.4 1273.97L1373.96 1273.54L1378.51 1273.13L1383.06 1272.74L1387.62 1272.37L1392.17 1272.01L1396.72 1271.67L1401.27 1271.35L1405.83 1271.04L1410.38 1270.75L1414.93 1270.46L1419.48 1270.2L1424.04 1269.94L1428.59 1269.69L1433.14 1269.46L1437.7 1269.24L1442.25 1269.02L1446.8 1268.82L1451.35 1268.63L1455.91 1268.44L1460.46 1268.27L1465.01 1268.1L1469.57 1267.94L1474.12 1267.79L1478.67 1267.64L1483.22 1267.5L1487.78 1267.37L1492.33 1267.24L1496.88 1267.12L1501.43 1267L1505.99 1266.89L1510.54 1266.79L1515.09 1266.69L1519.65 1266.6L1524.2 1266.51L1528.75 1266.42L1533.3 1266.34L1537.86 1266.26L1542.41 1266.19L1546.96 1266.12L1551.52 1266.05L1556.07 1265.99L1560.62 1265.93" stroke="#8a8a8a" stroke-width="2.35" stroke-linecap="round" stroke-dasharray="0 7.3" fill="none"/>
<rect x="1006.8" y="966.8" width="577.9" height="489.5" fill="none" stroke="#000" stroke-width="2.4"/>
<path d="M1018.84 1456.3V1475.8M1139.24 1456.3V1475.8M1259.63 1456.3V1475.8M1380.03 1456.3V1475.8M1500.42 1456.3V1475.8M1006.8 1421.34H987.3M1006.8 1333.92H987.3M1006.8 1246.51H987.3M1006.8 1159.1H987.3M1006.8 1071.69H987.3M1006.8 984.28H987.3" stroke="#000" stroke-width="2.4" fill="none"/>
<g font-family="'Liberation Serif','Times New Roman',serif" font-size="27" fill="#000"><text x="1018.84" y="1506.3" text-anchor="middle">4</text><text x="1139.24" y="1506.3" text-anchor="middle">6</text><text x="1259.63" y="1506.3" text-anchor="middle">8</text><text x="1380.03" y="1506.3" text-anchor="middle">10</text><text x="1500.42" y="1506.3" text-anchor="middle">12</text><text x="981.3" y="1429.34" text-anchor="end">10</text><text x="981.3" y="1341.92" text-anchor="end">15</text><text x="981.3" y="1254.51" text-anchor="end">20</text><text x="981.3" y="1167.1" text-anchor="end">25</text><text x="981.3" y="1079.69" text-anchor="end">30</text><text x="981.3" y="992.28" text-anchor="end">35</text></g>
<text transform="translate(1295.75 1555.5) scale(1 1.05)" text-anchor="middle" font-family="'Liberation Serif','Times New Roman',serif" font-size="34.4">PPV (%)</text>
<text transform="translate(921.8 1216.3) rotate(-90) scale(1 1.08)" text-anchor="middle" font-family="'Liberation Serif','Times New Roman',serif" font-size="34">ΔSVI<tspan font-size="25" dy="7.2">VE</tspan><tspan dy="-7.2">&#160;(%)</tspan></text>
<text x="1022.1" y="1008.5" font-family="'Liberation Serif','Times New Roman',serif" font-weight="bold" font-size="20.5" xml:space="preserve">Y = 0.007392*X + 0.1338 (<tspan font-style="italic">P</tspan>&lt;0.05)</text>
<text x="1022.1" y="1035.1" font-family="'Liberation Serif','Times New Roman',serif" font-weight="bold" font-size="20.5">R<tspan font-size="13.6" dy="-8.8">2</tspan><tspan dy="8.8">=0.07</tspan></text>
<text transform="translate(1002.2 842) scale(1.0 1)" font-family="'Liberation Serif','Times New Roman',serif" font-weight="bold" font-size="83">d</text>
<path d="M1032.6 910.3L1038 899.5L1043.4 910.3Z" fill="#ff0000"/>
<circle cx="1297.3" cy="904.6" r="5.2" fill="#55a0fb"/>
<text x="1092.5" y="915" font-family="'Liberation Serif','Times New Roman',serif" font-size="34">Responders</text>
<text x="1351.7" y="915.7" font-family="'Liberation Serif','Times New Roman',serif" font-size="34">Non-responders</text>
</g>
<g id="panel-e">
<path d="M129.13 1761.8V2255.8M238.5 1761.8V2255.8M347.87 1761.8V2255.8M457.23 1761.8V2255.8M566.6 1761.8V2255.8M675.97 1761.8V2255.8M110.9 2220.51H694.2M110.9 2132.3H694.2M110.9 2044.09H694.2M110.9 1955.87H694.2M110.9 1867.66H694.2M110.9 1779.44H694.2" stroke="#dadada" stroke-width="1.31" fill="none"/>
<circle cx="165.58" cy="2149.94" r="5.25" fill="#55a0fb"/><circle cx="274.95" cy="2149.94" r="5.25" fill="#55a0fb"/><circle cx="311.41" cy="2149.94" r="5.25" fill="#55a0fb"/><circle cx="457.23" cy="2149.94" r="5.25" fill="#55a0fb"/><circle cx="493.69" cy="2149.94" r="5.25" fill="#55a0fb"/><circle cx="274.95" cy="2167.59" r="5.25" fill="#55a0fb"/><circle cx="311.41" cy="2167.59" r="5.25" fill="#55a0fb"/><circle cx="347.87" cy="2167.59" r="5.25" fill="#55a0fb"/><circle cx="165.58" cy="2185.23" r="5.25" fill="#55a0fb"/><circle cx="202.04" cy="2202.87" r="5.25" fill="#55a0fb"/><circle cx="457.23" cy="2202.87" r="5.25" fill="#55a0fb"/><circle cx="202.04" cy="2220.51" r="5.25" fill="#55a0fb"/><circle cx="311.41" cy="2220.51" r="5.25" fill="#55a0fb"/><circle cx="347.87" cy="2220.51" r="5.25" fill="#55a0fb"/><circle cx="129.13" cy="2238.16" r="5.25" fill="#55a0fb"/><path d="M342.41 1784.89L347.87 1773.99L353.32 1784.89Z" fill="#ff0000"/><path d="M269.5 1837.82L274.95 1826.92L280.4 1837.82Z" fill="#ff0000"/><path d="M305.96 1837.82L311.41 1826.92L316.86 1837.82Z" fill="#ff0000"/><path d="M670.52 1837.82L675.97 1826.92L681.42 1837.82Z" fill="#ff0000"/><path d="M415.33 1855.47L420.78 1844.56L426.23 1855.47Z" fill="#ff0000"/><path d="M378.87 1908.39L384.32 1897.49L389.77 1908.39Z" fill="#ff0000"/><path d="M415.33 1908.39L420.78 1897.49L426.23 1908.39Z" fill="#ff0000"/><path d="M269.5 1926.04L274.95 1915.13L280.4 1926.04Z" fill="#ff0000"/><path d="M561.15 1926.04L566.6 1915.13L572.05 1926.04Z" fill="#ff0000"/><path d="M269.5 1943.68L274.95 1932.78L280.4 1943.68Z" fill="#ff0000"/><path d="M415.33 1943.68L420.78 1932.78L426.23 1943.68Z" fill="#ff0000"/><path d="M269.5 1961.32L274.95 1950.42L280.4 1961.32Z" fill="#ff0000"/><path d="M305.96 1961.32L311.41 1950.42L316.86 1961.32Z" fill="#ff0000"/><path d="M342.41 1961.32L347.87 1950.42L353.32 1961.32Z" fill="#ff0000"/><path d="M524.7 1961.32L530.15 1950.42L535.6 1961.32Z" fill="#ff0000"/><path d="M451.78 1978.97L457.23 1968.06L462.69 1978.97Z" fill="#ff0000"/><path d="M488.24 1978.97L493.69 1968.06L499.14 1978.97Z" fill="#ff0000"/><path d="M342.41 2014.25L347.87 2003.35L353.32 2014.25Z" fill="#ff0000"/><path d="M561.15 2014.25L566.6 2003.35L572.05 2014.25Z" fill="#ff0000"/><path d="M305.96 2031.89L311.41 2020.99L316.86 2031.89Z" fill="#ff0000"/><path d="M342.41 2031.89L347.87 2020.99L353.32 2031.89Z" fill="#ff0000"/><path d="M488.24 2031.89L493.69 2020.99L499.14 2031.89Z" fill="#ff0000"/><path d="M524.7 2031.89L530.15 2020.99L535.6 2031.89Z" fill="#ff0000"/><path d="M488.24 2084.82L493.69 2073.92L499.14 2084.82Z" fill="#ff0000"/><path d="M342.41 2102.47L347.87 2091.56L353.32 2102.47Z" fill="#ff0000"/><path d="M451.78 2102.47L457.23 2091.56L462.69 2102.47Z" fill="#ff0000"/><path d="M597.61 2102.47L603.06 2091.56L608.51 2102.47Z" fill="#ff0000"/><path d="M378.87 2120.11L384.32 2109.21L389.77 2120.11Z" fill="#ff0000"/><path d="M451.78 2120.11L457.23 2109.21L462.69 2120.11Z" fill="#ff0000"/><path d="M451.78 2137.75L457.23 2126.85L462.69 2137.75Z" fill="#ff0000"/>
<path d="M129.13 2128.06L675.97 1956.01" stroke="#999a9d" stroke-width="2.12" fill="none"/>
<path d="M129.13 2050.6L133.72 2050.35L138.32 2050.1L142.91 2049.84L147.51 2049.58L152.1 2049.31L156.7 2049.04L161.3 2048.76L165.89 2048.48L170.49 2048.19L175.08 2047.89L179.68 2047.59L184.27 2047.28L188.87 2046.96L193.46 2046.64L198.06 2046.31L202.65 2045.97L207.25 2045.62L211.84 2045.26L216.44 2044.89L221.03 2044.51L225.63 2044.12L230.23 2043.72L234.82 2043.3L239.42 2042.88L244.01 2042.43L248.61 2041.97L253.2 2041.5L257.8 2041.01L262.39 2040.5L266.99 2039.97L271.58 2039.42L276.18 2038.85L280.77 2038.25L285.37 2037.63L289.96 2036.99L294.56 2036.32L299.16 2035.61L303.75 2034.88L308.35 2034.11L312.94 2033.31L317.54 2032.47L322.13 2031.6L326.73 2030.68L331.32 2029.72L335.92 2028.72L340.51 2027.67L345.11 2026.57L349.7 2025.43L354.3 2024.23L358.89 2022.99L363.49 2021.69L368.09 2020.34L372.68 2018.94L377.28 2017.48L381.87 2015.97L386.47 2014.4L391.06 2012.78L395.66 2011.12L400.25 2009.4L404.85 2007.63L409.44 2005.81L414.04 2003.95L418.63 2002.04L423.23 2000.08L427.82 1998.09L432.42 1996.06L437.01 1993.99L441.61 1991.88L446.21 1989.74L450.8 1987.57L455.4 1985.37L459.99 1983.14L464.59 1980.88L469.18 1978.6L473.78 1976.29L478.37 1973.96L482.97 1971.61L487.56 1969.24L492.16 1966.85L496.75 1964.44L501.35 1962.01L505.94 1959.57L510.54 1957.12L515.14 1954.65L519.73 1952.17L524.33 1949.67L528.92 1947.17L533.52 1944.65L538.11 1942.12L542.71 1939.59L547.3 1937.04L551.9 1934.48L556.49 1931.92L561.09 1929.35L565.68 1926.77L570.28 1924.19L574.87 1921.59L579.47 1918.99L584.07 1916.39L588.66 1913.78L593.26 1911.16L597.85 1908.54L602.45 1905.92L607.04 1903.28L611.64 1900.65L616.23 1898.01L620.83 1895.37L625.42 1892.72L630.02 1890.07L634.61 1887.41L639.21 1884.76L643.8 1882.09L648.4 1879.43L653 1876.76L657.59 1874.09L662.19 1871.42L666.78 1868.74L671.38 1866.07L675.97 1863.39" stroke="#8a8a8a" stroke-width="2.37" stroke-linecap="round" stroke-dasharray="0 7.37" fill="none"/>
<path d="M129.13 2205.51L133.72 2202.87L138.32 2200.23L142.91 2197.59L147.51 2194.97L152.1 2192.34L156.7 2189.72L161.3 2187.11L165.89 2184.5L170.49 2181.9L175.08 2179.3L179.68 2176.71L184.27 2174.13L188.87 2171.56L193.46 2168.99L198.06 2166.43L202.65 2163.88L207.25 2161.33L211.84 2158.8L216.44 2156.28L221.03 2153.77L225.63 2151.27L230.23 2148.78L234.82 2146.3L239.42 2143.84L244.01 2141.39L248.61 2138.96L253.2 2136.54L257.8 2134.14L262.39 2131.76L266.99 2129.4L271.58 2127.05L276.18 2124.73L280.77 2122.44L285.37 2120.16L289.96 2117.92L294.56 2115.7L299.16 2113.51L303.75 2111.35L308.35 2109.23L312.94 2107.14L317.54 2105.09L322.13 2103.07L326.73 2101.1L331.32 2099.16L335.92 2097.28L340.51 2095.43L345.11 2093.64L349.7 2091.89L354.3 2090.19L358.89 2088.55L363.49 2086.95L368.09 2085.41L372.68 2083.93L377.28 2082.49L381.87 2081.11L386.47 2079.78L391.06 2078.51L395.66 2077.29L400.25 2076.12L404.85 2074.99L409.44 2073.92L414.04 2072.89L418.63 2071.91L423.23 2070.97L427.82 2070.07L432.42 2069.21L437.01 2068.39L441.61 2067.61L446.21 2066.85L450.8 2066.13L455.4 2065.44L459.99 2064.78L464.59 2064.15L469.18 2063.54L473.78 2062.96L478.37 2062.4L482.97 2061.86L487.56 2061.34L492.16 2060.83L496.75 2060.35L501.35 2059.88L505.94 2059.43L510.54 2059L515.14 2058.57L519.73 2058.16L524.33 2057.77L528.92 2057.38L533.52 2057.01L538.11 2056.64L542.71 2056.29L547.3 2055.94L551.9 2055.61L556.49 2055.28L561.09 2054.96L565.68 2054.65L570.28 2054.34L574.87 2054.04L579.47 2053.75L584.07 2053.46L588.66 2053.18L593.26 2052.91L597.85 2052.64L602.45 2052.37L607.04 2052.11L611.64 2051.85L616.23 2051.6L620.83 2051.35L625.42 2051.11L630.02 2050.87L634.61 2050.63L639.21 2050.4L643.8 2050.17L648.4 2049.94L653 2049.72L657.59 2049.5L662.19 2049.28L666.78 2049.06L671.38 2048.85L675.97 2048.64" stroke="#8a8a8a" stroke-width="2.37" stroke-linecap="round" stroke-dasharray="0 7.37" fill="none"/>
<rect x="110.9" y="1761.8" width="583.3" height="494" fill="none" stroke="#000" stroke-width="2.42"/>
<path d="M129.13 2255.8V2275.49M238.5 2255.8V2275.49M347.87 2255.8V2275.49M457.23 2255.8V2275.49M566.6 2255.8V2275.49M675.97 2255.8V2275.49M110.9 2220.51H91.21M110.9 2132.3H91.21M110.9 2044.09H91.21M110.9 1955.87H91.21M110.9 1867.66H91.21M110.9 1779.44H91.21" stroke="#000" stroke-width="2.42" fill="none"/>
<g font-family="'Liberation Serif','Times New Roman',serif" font-size="27.26" fill="#000"><text x="129.13" y="2306.28" text-anchor="middle">6</text><text x="238.5" y="2306.28" text-anchor="middle">9</text><text x="347.87" y="2306.28" text-anchor="middle">12</text><text x="457.23" y="2306.28" text-anchor="middle">15</text><text x="566.6" y="2306.28" text-anchor="middle">18</text><text x="675.97" y="2306.28" text-anchor="middle">21</text><text x="85.16" y="2228.59" text-anchor="end">10</text><text x="85.16" y="2140.38" text-anchor="end">15</text><text x="85.16" y="2052.16" text-anchor="end">20</text><text x="85.16" y="1963.95" text-anchor="end">25</text><text x="85.16" y="1875.73" text-anchor="end">30</text><text x="85.16" y="1787.52" text-anchor="end">35</text></g>
<text transform="translate(402.55 2355.94) scale(1 1.03)" text-anchor="middle" font-family="'Liberation Serif','Times New Roman',serif" font-size="34.02">SVV (%)</text>
<text transform="translate(25.09 2013.26) rotate(-90) scale(1 1.05)" text-anchor="middle" font-family="'Liberation Serif','Times New Roman',serif" font-size="34.32">ΔSVI<tspan font-size="25.24" dy="7.27">VE</tspan><tspan dy="-7.27">&#160;(%)</tspan></text>
<text x="126.35" y="1803.39" font-family="'Liberation Serif','Times New Roman',serif" font-weight="bold" font-size="20.69" xml:space="preserve">Y = 0.006501*X + 0.1134(<tspan font-style="italic">P</tspan>&lt;0.05)</text>
<text x="126.35" y="1830.24" font-family="'Liberation Serif','Times New Roman',serif" font-weight="bold" font-size="20.69">R<tspan font-size="13.73" dy="-8.88">2</tspan><tspan dy="8.88">=0.09</tspan></text>
<text transform="translate(111.5 1642.6) scale(1.0 1)" font-family="'Liberation Serif','Times New Roman',serif" font-weight="bold" font-size="83.79">e</text>
<path d="M136.95 1705.65L142.4 1694.75L147.85 1705.65Z" fill="#ff0000"/>
<circle cx="404.1" cy="1700.2" r="5.25" fill="#55a0fb"/>
<text x="197.59" y="1709.7" font-family="'Liberation Serif','Times New Roman',serif" font-size="34.32">Responders</text>
<text x="459.19" y="1710.3" font-family="'Liberation Serif','Times New Roman',serif" font-size="34.32">Non-responders</text>
</g>
</svg></body></html>
